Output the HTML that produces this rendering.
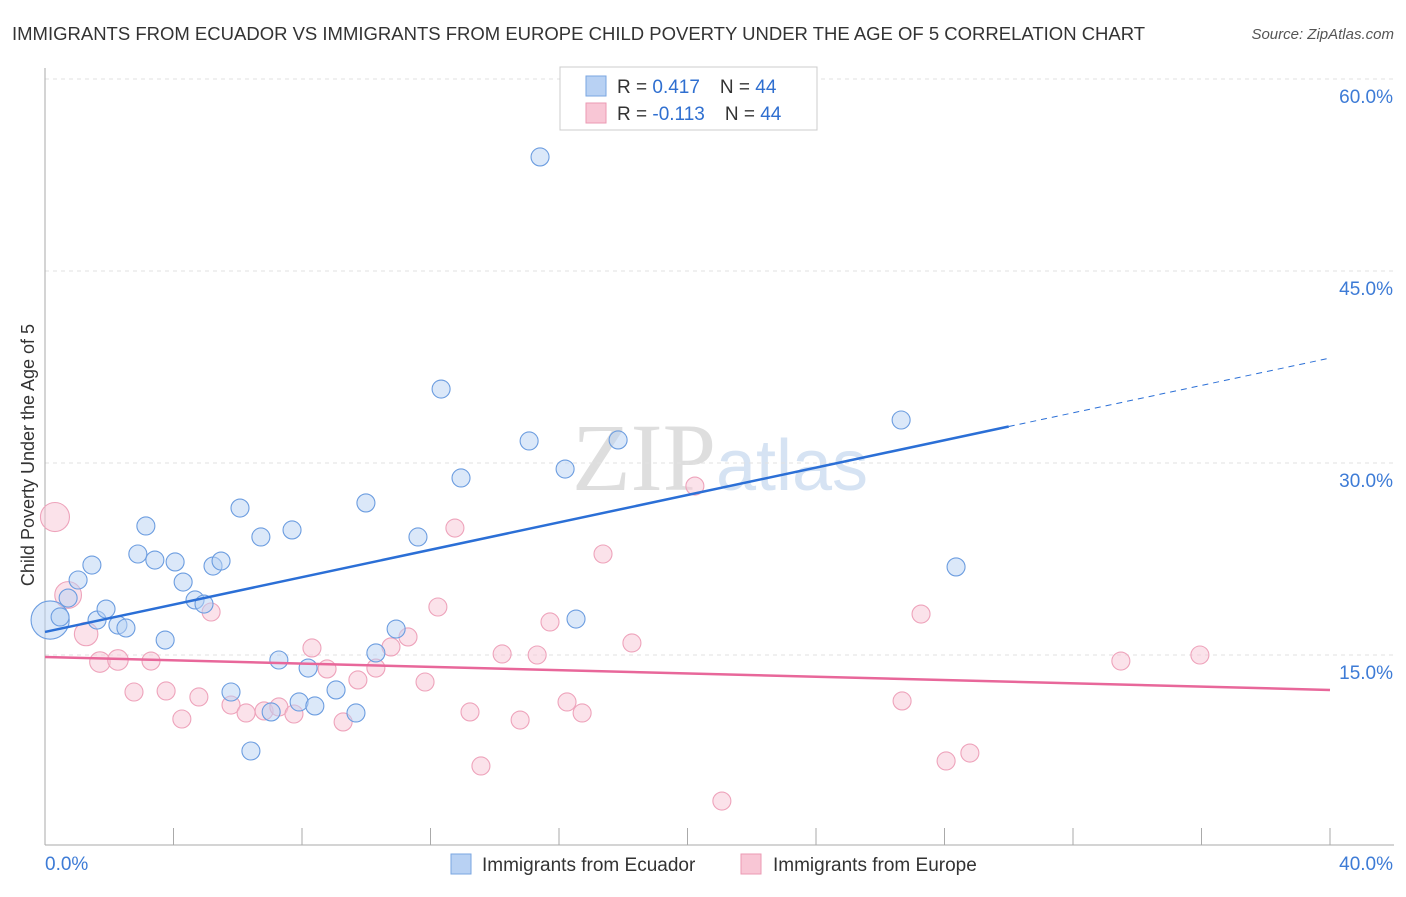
<!DOCTYPE html>
<html><head><meta charset="utf-8"><style>
body{margin:0;background:#fff;font-family:"Liberation Sans",sans-serif;}
svg text{font-family:"Liberation Sans",sans-serif;}
</style></head><body>
<svg id="chart" width="1406" height="892">
<text x="12" y="40" font-size="18.5" fill="#333">IMMIGRANTS FROM ECUADOR VS IMMIGRANTS FROM EUROPE CHILD POVERTY UNDER THE AGE OF 5 CORRELATION CHART</text>
<text x="1394" y="39" font-size="15" fill="#555" font-style="italic" text-anchor="end">Source: ZipAtlas.com</text>
<text x="720" y="490" font-size="96" fill="#e4e4e4" text-anchor="middle" font-family="Liberation Serif"><tspan font-family="Liberation Serif" fill="#dedede">ZIP</tspan><tspan font-family="Liberation Sans" fill="#d6e3f3" font-size="72">atlas</tspan></text>
<g id="grid"></g><g id="axes"></g><g id="pts"></g><g id="lines"></g>
<text transform="translate(34,455) rotate(-90)" font-size="18" fill="#333" text-anchor="middle">Child Poverty Under the Age of 5</text>
<g>
<rect x="560" y="67" width="257" height="63" fill="#fff" stroke="#ccc"/>
<rect x="586" y="76" width="20" height="20" fill="#b8d1f3" stroke="#7aa6e0"/>
<rect x="586" y="103" width="20" height="20" fill="#f8c6d5" stroke="#eb9ab3"/>
<text x="617" y="93" font-size="19" fill="#333">R = <tspan fill="#2f6fd0"> 0.417</tspan><tspan dx="20">N = </tspan><tspan fill="#2f6fd0">44</tspan></text>
<text x="617" y="120" font-size="19" fill="#333">R = <tspan fill="#2f6fd0">-0.113</tspan><tspan dx="20">N = </tspan><tspan fill="#2f6fd0">44</tspan></text>
</g>
<g>
<rect x="451" y="854" width="20" height="20" fill="#b8d1f3" stroke="#7aa6e0"/>
<text x="482" y="871" font-size="19" fill="#333">Immigrants from Ecuador</text>
<rect x="741" y="854" width="20" height="20" fill="#f8c6d5" stroke="#eb9ab3"/>
<text x="773" y="871" font-size="19" fill="#333">Immigrants from Europe</text>
</g>
</svg>
<script>
const ecuadorX=[0.16,0.47,0.72,1.03,1.46,1.62,1.90,2.27,2.52,2.89,3.14,3.42,3.74,4.05,4.30,4.67,4.95,5.23,5.48,5.79,6.07,6.41,6.72,7.04,7.28,7.69,7.91,8.19,8.40,9.06,9.68,9.99,10.30,10.93,11.61,12.33,12.95,15.07,15.41,16.19,16.53,17.84,26.65,28.36];
const ecuadorY=[17.73,17.97,19.45,20.86,22.03,17.73,18.59,17.34,17.11,22.89,25.08,22.42,16.17,22.27,20.70,19.30,18.98,21.95,22.34,12.11,26.48,7.50,24.22,10.55,14.61,24.77,11.33,13.98,11.02,12.27,10.47,26.88,15.16,17.03,24.22,35.78,28.83,31.72,53.91,29.53,17.81,31.80,33.36,21.88];
const ecuadorW=[4.5,1,1,1,1,1,1,1,1,1,1,1,1,1,1,1,1,1,1,1,1,1,1,1,1,1,1,1,1,1,1,1,1,1,1,1,1,1,1,1,1,1,1,1];
const europeX=[0.31,0.72,1.28,1.71,2.27,2.77,3.30,3.77,4.26,4.79,5.17,5.79,6.26,6.82,7.28,7.75,8.31,8.78,9.28,9.74,10.30,10.77,11.30,11.83,12.23,12.76,13.23,13.57,14.23,14.79,15.32,15.72,16.25,16.72,17.37,18.27,20.23,21.07,26.68,27.27,28.05,28.79,33.49,35.95];
const europeY=[25.78,19.69,16.64,14.45,14.61,12.11,14.53,12.19,10.00,11.72,18.36,11.09,10.47,10.63,10.94,10.39,15.55,13.91,9.77,13.05,13.98,15.63,16.41,12.89,18.75,24.92,10.55,6.33,15.08,9.92,15.00,17.58,11.33,10.47,22.89,15.94,28.20,3.59,11.41,18.20,6.72,7.34,14.53,15.00];
const europeW=[2.6,2.2,1.7,1.3,1.3,1,1,1,1,1,1,1,1,1,1,1,1,1,1,1,1,1,1,1,1,1,1,1,1,1,1,1,1,1,1,1,1,1,1,1,1,1,1,1];
const yTicks=[15,30,45,60];
const yTickLabels=["15.0%","30.0%","45.0%","60.0%"];
const xTickCount=10;
const blueTrend=[16.8,38.2];const blueSolidEnd=30.0;
const pinkTrend=[14.84,12.27];

const NS="http://www.w3.org/2000/svg";
const sx=v=>45+v/40*1285;
const sy=v=>847-v/15*192;
function mk(tag,attrs,parent){const e=document.createElementNS(NS,tag);for(const k in attrs)e.setAttribute(k,attrs[k]);parent.appendChild(e);return e;}
const grid=document.getElementById('grid'),axes=document.getElementById('axes'),pts=document.getElementById('pts'),lines=document.getElementById('lines');
yTicks.forEach((t,i)=>{
 const l=mk('line',{x1:45,x2:1394,y1:sy(t),y2:sy(t),stroke:'#e2e2e2','stroke-dasharray':'4,4'},grid);
 
 
 const tx=mk('text',{x:1393,y:sy(t)+24,'font-size':19,fill:'#3d7bd6','text-anchor':'end'},axes);
 tx.textContent=yTickLabels[i];
 
 
});
const ya=mk('line',{x1:45,x2:45,y1:68,y2:845,stroke:'#aaa'},axes);


const xa=mk('line',{x1:45,x2:1394,y1:845,y2:845,stroke:'#aaa'},axes);


for(let i=1;i<=xTickCount;i++){const v=i*40/xTickCount;
 const t=mk('line',{x1:sx(v),x2:sx(v),y1:828,y2:845,stroke:'#aaa'},axes);
 
 }
const x0=mk('text',{x:45,y:870,'font-size':19,fill:'#3d7bd6'},axes);x0.textContent='0.0%';


const x1=mk('text',{x:1393,y:870,'font-size':19,fill:'#3d7bd6','text-anchor':'end'},axes);x1.textContent='40.0%';


function series(X,Y,W,fill,stroke,name){X.forEach((x,i)=>{
 const c=mk('circle',{cx:sx(x),cy:sy(Y[i]),r:9*Math.sqrt(W[i]),fill:fill,'fill-opacity':0.5,stroke:stroke,'stroke-width':1.1},pts);
 
 });}
series(europeX,europeY,europeW,'#f8c6d5','#eea3bb','europe-point');
series(ecuadorX,ecuadorY,ecuadorW,'#b8d1f3','#6c9de0','ecuador-point');
const by=x=>blueTrend[0]+(blueTrend[1]-blueTrend[0])*x/40;
const b1=mk('line',{x1:sx(0),y1:sy(by(0)),x2:sx(blueSolidEnd),y2:sy(by(blueSolidEnd)),stroke:'#2b6fd6','stroke-width':2.5},lines);


const b2=mk('line',{x1:sx(blueSolidEnd),y1:sy(by(blueSolidEnd)),x2:sx(39.9),y2:sy(by(39.9)),stroke:'#2b6fd6','stroke-width':1,'stroke-dasharray':'6,5'},lines);


const p1=mk('line',{x1:sx(0),y1:sy(pinkTrend[0]),x2:sx(40),y2:sy(pinkTrend[1]),stroke:'#e8679a','stroke-width':2.5},lines);


</script>
</body></html>
